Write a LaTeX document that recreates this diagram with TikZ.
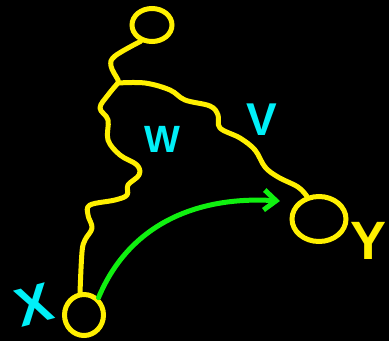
\documentclass[tikz,border=0pt]{standalone}
\usepackage{fontspec}
\setsansfont{Liberation Sans}
\usepackage{tikz}
\usetikzlibrary{shapes.geometric, arrows.meta}
\definecolor{chalkyellow}{HTML}{FFF000}
\definecolor{chalkcyan}{HTML}{00F0F8}
\definecolor{chalkgreen}{HTML}{10F010}

\begin{document}
\begin{tikzpicture}[x=1pt, y=-1pt,
        blob/.style={draw=chalkyellow, line width=5pt, ellipse, inner sep=0pt},
        wire/.style={chalkyellow, line width=5pt, line cap=round, line join=round},
        tag/.style={font=\sffamily\bfseries, inner sep=0pt}]
    \fill[black] (0,0) rectangle (389,341);
    \clip (0,0) rectangle (389,341);

    \node[blob, minimum width=40pt, minimum height=33pt] (top) at (152,25) {};
    \node[blob, minimum width=54pt, minimum height=45pt] (y) at (319,219) {};
    \node[blob, minimum width=39pt, minimum height=41pt] (x) at (84,315) {};
    \coordinate (fork) at (118,83);
    \coordinate (tip) at (280,201);

    % wiggly yellow strokes
    \draw[wire] plot[smooth, tension=0.6] coordinates {(top.235) (115,56) (111,66) (118,80) (fork)};
    \draw[wire] plot[smooth, tension=0.6] coordinates {(fork) (145,83) (170,90) (185,100) (210,106)
        (218,115) (220,128) (240,138) (255,150) (265,167) (278,177) (298,187) (y.118)};
    \draw[wire] plot[smooth, tension=0.6] coordinates {(fork) (108,95) (100,108) (108,120) (108,140)
        (120,155) (137,165) (139,175) (128,185) (127,195) (115,200) (90,205) (88,215) (92,228)
        (85,240) (82,252) (x.100)};

    % green arrow
    \draw[chalkgreen, line width=5pt, line cap=round, -{Straight Barb[length=12pt, width=20pt]}]
        (x.50) .. controls (130,222) and (200,196) .. (tip);

    \node[tag, text=chalkcyan, font=\sffamily\bfseries\fontsize{38}{38}\selectfont] (wlabel) at (162,139) {W};
    \node[tag, text=chalkcyan, font=\sffamily\bfseries\fontsize{46}{46}\selectfont] (vlabel) at (262,120) {V};
    \node[tag, text=chalkcyan, font=\sffamily\bfseries\fontsize{54}{54}\selectfont, rotate=15] (xlabel) at (34,305) {X};
    \node[tag, text=chalkyellow, font=\sffamily\bfseries\fontsize{54}{54}\selectfont] (ylabel) at (369,241) {Y};
\end{tikzpicture}
\end{document}
